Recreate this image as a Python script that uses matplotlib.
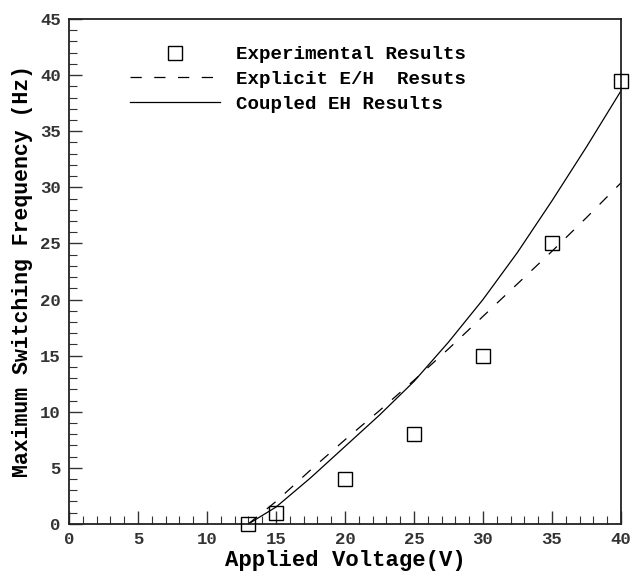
import matplotlib
matplotlib.use("Agg")
import matplotlib.pyplot as plt
from matplotlib.ticker import MultipleLocator
from matplotlib.lines import Line2D

plt.rcParams['font.family'] = ['Liberation Mono', 'DejaVu Sans Mono']

# Experimental data
exp_v = [13, 15, 20, 25, 30, 35, 40]
exp_f = [0, 1, 4, 8, 15, 25, 39.5]

# Explicit E/H results (dashed)
expl_v = [13, 15, 17.5, 20, 22.5, 25, 27.5, 30, 32.5, 35, 37.5, 40]
expl_f = [0, 2.0, 4.8, 7.5, 10.1, 12.8, 15.6, 18.5, 21.4, 24.3, 27.3, 30.4]

# Coupled EH results (solid)
coup_v = [13, 15, 17.5, 20, 22.5, 25, 27.5, 30, 32.5, 35, 37.5, 40]
coup_f = [0, 1.5, 4.1, 6.9, 9.7, 12.7, 16.2, 20.0, 24.2, 28.8, 33.6, 38.6]

DASH = (0, (9, 10))

fig = plt.figure(figsize=(6.33, 5.77), dpi=100)
ax = fig.add_axes([0.109, 0.092, 0.872, 0.875])

ax.plot(expl_v, expl_f, color='black', lw=0.9, linestyle=DASH,
        label='Explicit E/H  Resuts', clip_on=False)
ax.plot(coup_v, coup_f, color='black', lw=0.9, linestyle='-',
        label='Coupled EH Results', clip_on=False)
ax.plot(exp_v, exp_f, linestyle='none', marker='s', markersize=9.5,
        markerfacecolor='none', markeredgecolor='black', markeredgewidth=1.0,
        label='Experimental Results', clip_on=False, zorder=5)

ax.set_xlim(0, 40)
ax.set_ylim(0, 45)
ax.xaxis.set_major_locator(MultipleLocator(5))
ax.xaxis.set_minor_locator(MultipleLocator(1))
ax.yaxis.set_major_locator(MultipleLocator(5))
ax.yaxis.set_minor_locator(MultipleLocator(1))
ax.tick_params(which='both', direction='in', top=False, right=False,
               color='#333333')
ax.tick_params(which='major', length=9.5, width=1.0, labelsize=12.5, pad=6,
               labelcolor='#333333')
ax.tick_params(which='minor', length=5.8, width=0.8)
for lab in ax.get_xticklabels() + ax.get_yticklabels():
    lab.set_fontweight('bold')
for s in ax.spines.values():
    s.set_linewidth(1.3)
    s.set_color('#222222')

ax.set_xlabel('Applied Voltage(V)', fontsize=16, fontweight='bold', labelpad=2)
ax.set_ylabel('Maximum Switching Frequency (Hz)', fontsize=15.5,
              fontweight='bold', labelpad=5)

handles = [
    Line2D([], [], linestyle='none', marker='s', markersize=9.5,
           markerfacecolor='none', markeredgecolor='black', markeredgewidth=1.0),
    Line2D([], [], color='black', lw=0.9, linestyle=DASH),
    Line2D([], [], color='black', lw=0.9, linestyle='-'),
]
labels = ['Experimental Results', 'Explicit E/H  Resuts', 'Coupled EH Results']
ax.legend(handles, labels, loc='upper left', bbox_to_anchor=(0.11, 0.947),
          frameon=False, handlelength=4.7, handletextpad=0.85,
          labelspacing=0.38, borderpad=0, borderaxespad=0, numpoints=1,
          prop={'family': 'Liberation Mono', 'weight': 'bold', 'size': 13.8})

fig.savefig('out.png', dpi=100)
